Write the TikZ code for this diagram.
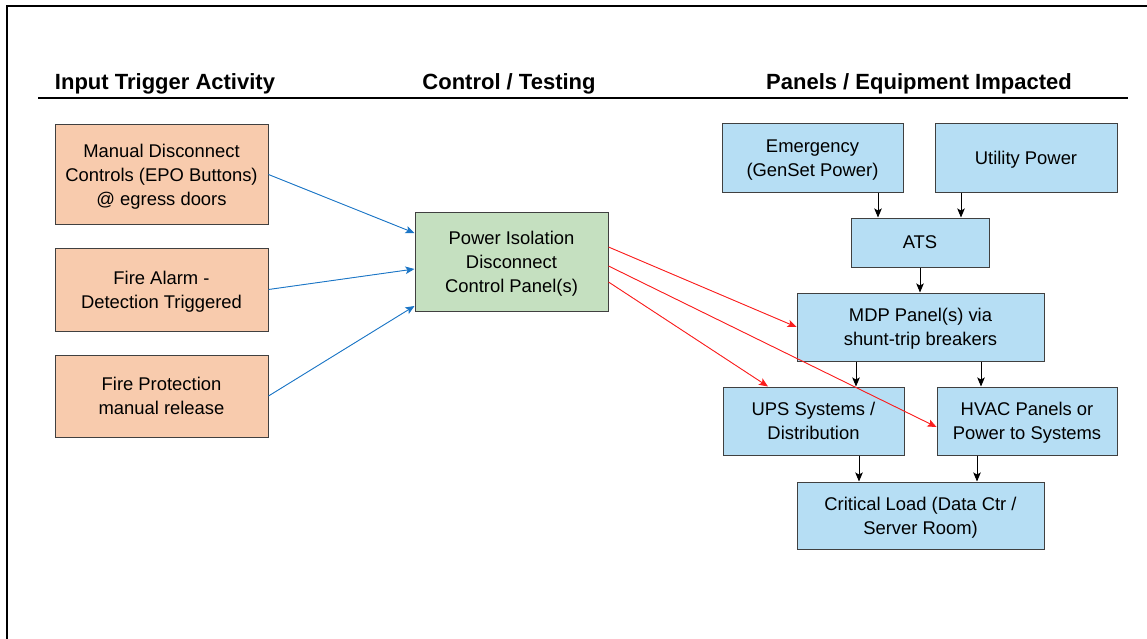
\documentclass[tikz,border=0pt]{standalone}
\usepackage{fontspec}
\setmainfont{Liberation Sans}
\usetikzlibrary{arrows.meta}
\usetikzlibrary{positioning}
\definecolor{trigfill}{RGB}{248,203,173}
\definecolor{ctrlfill}{RGB}{197,224,192}
\definecolor{equipfill}{RGB}{182,222,244}
\definecolor{edge}{RGB}{64,64,64}
\definecolor{bluearr}{RGB}{28,118,198}
\definecolor{redarr}{RGB}{250,30,30}
\tikzset{box/.style = {draw=edge, line width=1pt, align=center,
                       font=\fontsize{18.4}{24}\selectfont, inner sep=0,
                       text depth=-12pt}}
\tikzset{trig/.style = {box, fill=trigfill, minimum width=213pt}}
\tikzset{ctrl/.style = {box, fill=ctrlfill}}
\tikzset{equip/.style = {box, fill=equipfill}}
\tikzset{head/.style = {font=\fontsize{22}{26}\selectfont\bfseries}}
\tikzset{tip/.style = {-{Stealth[length=9pt, width=7.5pt, inset=2pt]}, line width=0.9pt}}
\tikzset{bl/.style = {tip, draw=bluearr, fill=bluearr}}
\tikzset{rd/.style = {tip, draw=redarr, fill=redarr}}
\tikzset{bk/.style = {tip, draw=black, fill=black}}

\begin{document}
\begin{tikzpicture}[x=1pt, y=-1pt]
      \useasboundingbox (0, 0) rectangle (1147, 639);
      \draw [line width=1.5pt] (7, 639) -- (7, 6) -- (1147, 6);

      \node [head] (h1) at (165, 84) {Input Trigger Activity};
      \node [head] (h2) at (509, 84) {Control / Testing};
      \node [head] (h3) at (919, 84) {Panels / Equipment Impacted};
      \draw [line width=1.2pt] (38, 98) -- (1128, 98);

      \node [trig, minimum height=99pt] (epo) at (161.5, 174.5) {Manual Disconnect\\Controls (EPO Buttons)\\@ egress doors};
      \node [trig, minimum height=83pt] (alarm) at (161.5, 289.5) {Fire Alarm -\\Detection Triggered};
      \node [trig, minimum height=82pt] (prot) at (161.5, 396) {Fire Protection\\manual release};

      \node [ctrl, minimum width=193pt, minimum height=99pt] (iso) at (511.5, 261.5) {Power Isolation\\Disconnect\\Control Panel(s)};

      \node [equip, minimum width=181pt, minimum height=68pt] (gen) at (812.5, 158) {Emergency\\(GenSet Power)};
      \node [equip, minimum width=182pt, minimum height=68pt] (util) at (1026, 158) {Utility Power};
      \node [equip, minimum width=138pt, minimum height=49pt] (ats) at (920, 242.5) {ATS};
      \node [equip, minimum width=247pt, minimum height=68pt] (mdp) at (920.5, 327) {MDP Panel(s) via\\shunt-trip breakers};
      \node [equip, minimum width=181pt, minimum height=68pt] (ups) at (813.5, 421) {UPS Systems /\\Distribution};
      \node [equip, minimum width=180pt, minimum height=68pt] (hvac) at (1027, 421) {HVAC Panels or\\Power to Systems};
      \node [equip, minimum width=247pt, minimum height=67pt] (load) at (920.5, 515.5) {Critical Load (Data Ctr /\\Server Room)};

      % triggers into the panel
      \draw [bl] (epo.east) -- ([yshift=28.5pt]iso.west);
      \draw [bl] (alarm.east) -- ([yshift=-7.5pt]iso.west);
      \draw [bl] (prot.east) -- ([yshift=-44.5pt]iso.west);

      % panel out to equipment
      \draw [rd] ([yshift=14.5pt]iso.east) -- (mdp.west);
      \draw [rd] ([yshift=-4.5pt]iso.east) -- ([yshift=-6pt]hvac.west);
      \draw [rd] ([yshift=-20.5pt]iso.east) -- ([xshift=-45.5pt]ups.north);

      % power chain
      \draw [bk] ([xshift=-42pt]ats.north |- gen.south) -- ([xshift=-42pt]ats.north);
      \draw [bk] ([xshift=41pt]ats.north |- util.south) -- ([xshift=41pt]ats.north);
      \draw [bk] (ats.south) -- (ats.south |- mdp.north);
      \draw [bk] ([xshift=42.5pt]ups.north |- mdp.south) -- ([xshift=42.5pt]ups.north);
      \draw [bk] ([xshift=-46pt]hvac.north |- mdp.south) -- ([xshift=-46pt]hvac.north);
      \draw [bk] ([xshift=-61.5pt]load.north |- ups.south) -- ([xshift=-61.5pt]load.north);
      \draw [bk] ([xshift=56.5pt]load.north |- hvac.south) -- ([xshift=56.5pt]load.north);
    \end{tikzpicture}
\end{document}
